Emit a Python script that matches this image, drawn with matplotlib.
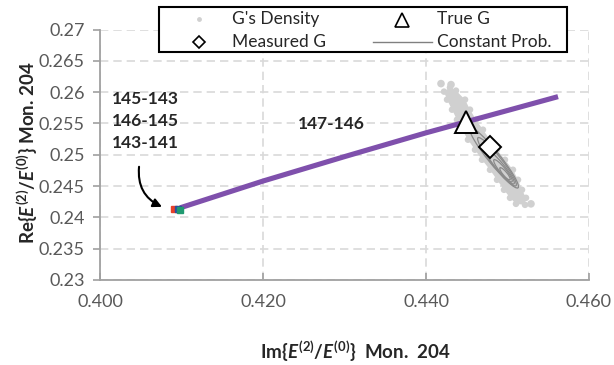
import numpy as np
import matplotlib
matplotlib.use("Agg")
import matplotlib.pyplot as plt
from matplotlib.lines import Line2D
from matplotlib.patches import Ellipse, Rectangle
from matplotlib.transforms import IdentityTransform
from matplotlib.ticker import FuncFormatter, FixedLocator

plt.rcParams['font.family'] = ['Lato', 'DejaVu Sans']
plt.rcParams['mathtext.fontset'] = 'custom'
plt.rcParams['mathtext.rm'] = 'Lato:bold'
plt.rcParams['mathtext.it'] = 'Lato:bold:italic'
plt.rcParams['mathtext.bf'] = 'Lato:bold'

# ---------------- data ----------------
x_ticks = [0.400, 0.420, 0.440, 0.460]
y_ticks = [0.23, 0.235, 0.24, 0.245, 0.25, 0.255, 0.26, 0.265, 0.27]

# constant probability curve
prob_x = [0.40982, 0.42, 0.43, 0.44, 0.4562]
prob_y = [0.24152, 0.2458, 0.2497, 0.2535, 0.25928]

# G's density cloud (outline of the dense region, then isolated points)
cloud_x = [0.44294, 0.44368, 0.44479, 0.44540, 0.44613, 0.44699, 0.44785,
           0.44871, 0.44969, 0.45067, 0.45129, 0.45178, 0.45227, 0.45215,
           0.45104, 0.45031, 0.44957, 0.44871, 0.44785, 0.44687, 0.44601,
           0.44515, 0.44442, 0.44380, 0.44319, 0.44258, 0.44221]
cloud_y = [0.26072, 0.26024, 0.2588, 0.2572, 0.2556, 0.2540, 0.2524,
           0.2508, 0.2492, 0.2476, 0.2460, 0.2444, 0.24312, 0.2420,
           0.24216, 0.24312, 0.2444, 0.2460, 0.2476, 0.2492, 0.2508,
           0.2524, 0.2540, 0.2556, 0.2572, 0.2588, 0.26008]
outlier_x = [0.44184, 0.44307, 0.45288]
outlier_y = [0.26136, 0.2612, 0.24216]

# density contours: upper tip, lower tip (data), half width (px)
contour_top_x = [0.44540, 0.44638, 0.44736, 0.44834, 0.44908]
contour_top_y = [0.2543, 0.25272, 0.2508, 0.2492, 0.24792]
contour_bot_x = [0.45129, 0.45104, 0.45080, 0.45055, 0.45031]
contour_bot_y = [0.24472, 0.24504, 0.24536, 0.24568, 0.2460]
contour_halfw = [6, 5, 4, 3, 2]

true_g = (0.4449, 0.2553)
measured_g = (0.4479, 0.2513)

# start points of the other pairs
start_x = [0.40902, 0.40960, 0.40985]
start_y = [0.24136, 0.24140, 0.24125]
start_colors = ['#e8412a', '#2b4f9e', '#1f9a70']

pair_labels = ['145-143', '146-145', '143-141']
pair_label_x = 0.40147
pair_label_y = [0.25896, 0.25544, 0.25192]
main_label = '147-146'
main_label_pos = (0.42429, 0.25496)
arrow_from = (0.40479, 0.24808)
arrow_to = (0.40761, 0.24168)

legend_labels = ["G's Density", 'Measured G', 'True G', 'Constant Prob.']

# ---------------- figure ----------------
W, H = 614, 365
fig = plt.figure(figsize=(W / 100, H / 100), dpi=100)
ax = fig.add_axes([100 / W, 1 - 280 / H, 489 / W, 250.5 / H])
ax.set_xlim(0.400, 0.460)
ax.set_ylim(0.23, 0.27)

ax.xaxis.set_major_locator(FixedLocator(x_ticks))
ax.yaxis.set_major_locator(FixedLocator(y_ticks))
ax.xaxis.set_major_formatter(FuncFormatter(lambda v, p: f'{v:.3f}'))
ax.yaxis.set_major_formatter(FuncFormatter(lambda v, p: f'{v:g}'))

spine_c = '#a0a0a0'
for s in ['top', 'right']:
    ax.spines[s].set_visible(False)
for s in ['left', 'bottom']:
    ax.spines[s].set_color(spine_c)
    ax.spines[s].set_linewidth(1.3)
ax.tick_params(axis='x', direction='in', length=5, width=1.2, color=spine_c,
               pad=10, labelsize=13, labelcolor='#595959')
ax.tick_params(axis='y', direction='out', length=5, width=1.2, color=spine_c,
               pad=6, labelsize=13, labelcolor='#595959')
ax.grid(True, color='#d9d9d9', linestyle=(0, (5, 3)), linewidth=1.2)
ax.set_axisbelow(True)

cloud_c = '#d0d0d0'
ax.fill(cloud_x, cloud_y, color=cloud_c, lw=0, zorder=2)
ax.scatter(cloud_x, cloud_y, s=22, color=cloud_c, edgecolors='none', zorder=2)
ax.scatter(outlier_x, outlier_y, s=30, color=cloud_c, edgecolors='none', zorder=2)

ax.plot(prob_x, prob_y, color='#7f50ac', lw=3.7, solid_capstyle='butt',
        solid_joinstyle='round', zorder=3)

for cx, cy, sc in zip(start_x, start_y, start_colors):
    ax.plot([cx], [cy], marker='s', ms=4.5, color=sc, ls='none', zorder=4)

# contours (built in display space so they keep their drawn shape)
for tx, ty, bx, by, hw in zip(contour_top_x, contour_top_y, contour_bot_x,
                               contour_bot_y, contour_halfw):
    p1 = ax.transData.transform((tx, ty))
    p2 = ax.transData.transform((bx, by))
    c = (p1 + p2) / 2
    d = p2 - p1
    ang = np.degrees(np.arctan2(d[1], d[0]))
    e = Ellipse(c, np.hypot(*d), 2 * hw, angle=ang, transform=IdentityTransform(),
                fill=False, ec='#8a8a8a', lw=0.9, zorder=4)
    ax.add_artist(e)

ax.plot([true_g[0]], [true_g[1]], marker='^', ms=16, mfc='white', mec='black',
        mew=1.4, ls='none', zorder=6)
ax.plot([measured_g[0]], [measured_g[1]], marker='D', ms=11.5, mfc='white',
        mec='black', mew=1.4, ls='none', zorder=6)

lab_c = '#262626'
for lab, ly in zip(pair_labels, pair_label_y):
    ax.text(pair_label_x, ly, lab, fontsize=12.5, fontweight='bold', color=lab_c,
            ha='left', va='center', zorder=7)
ax.text(main_label_pos[0], main_label_pos[1], main_label, fontsize=12.5,
        fontweight='bold', color=lab_c, ha='left', va='center', zorder=7)
ax.annotate('', xy=arrow_to, xytext=arrow_from,
            arrowprops=dict(arrowstyle='-|>', connectionstyle='arc3,rad=0.35',
                            color='black', lw=1.5, mutation_scale=13,
                            shrinkA=0, shrinkB=0), zorder=7)

fig.text(27 / W, 1 - 153 / H, r'Re{$E^{(2)}/E^{(0)}$} Mon. 204', rotation=90,
         ha='center', va='center', fontsize=13.5, fontweight='bold', color=lab_c)
fig.text(355 / W, 1 - 351 / H, r'Im{$E^{(2)}/E^{(0)}$}  Mon.  204',
         ha='center', va='center', fontsize=13.5, fontweight='bold', color=lab_c)

# ---------------- legend (drawn in figure pixel positions) ----------------
def fx(px):
    return px / W


def fy(py):
    return 1 - py / H


fig.add_artist(Rectangle((fx(159), fy(52)), fx(567) - fx(159), fy(7) - fy(52),
                         transform=fig.transFigure, fill=True, fc='white',
                         ec='black', lw=1.5, zorder=10))
fig.add_artist(Line2D([fx(199)], [fy(19)], ls='none', marker='o', ms=3.5,
                      mfc=cloud_c, mec='none', transform=fig.transFigure, zorder=11))
fig.add_artist(Line2D([fx(199)], [fy(42)], ls='none', marker='D', ms=6.5,
                      mfc='white', mec='black', mew=1.2,
                      transform=fig.transFigure, zorder=11))
fig.add_artist(Line2D([fx(402)], [fy(20)], ls='none', marker='^', ms=9.5,
                      mfc='white', mec='black', mew=1.2,
                      transform=fig.transFigure, zorder=11))
fig.add_artist(Line2D([fx(373), fx(432)], [fy(42), fy(42)], color='#808080',
                      lw=1.0, transform=fig.transFigure, zorder=11))
leg_pos = [(232, 19), (232, 42), (437, 19), (437, 42)]
for lab, (lx, ly) in zip(legend_labels, leg_pos):
    fig.text(fx(lx), fy(ly), lab, fontsize=12.5, color='#262626', ha='left',
             va='center', zorder=12)

fig.savefig('out.png', dpi=100)
